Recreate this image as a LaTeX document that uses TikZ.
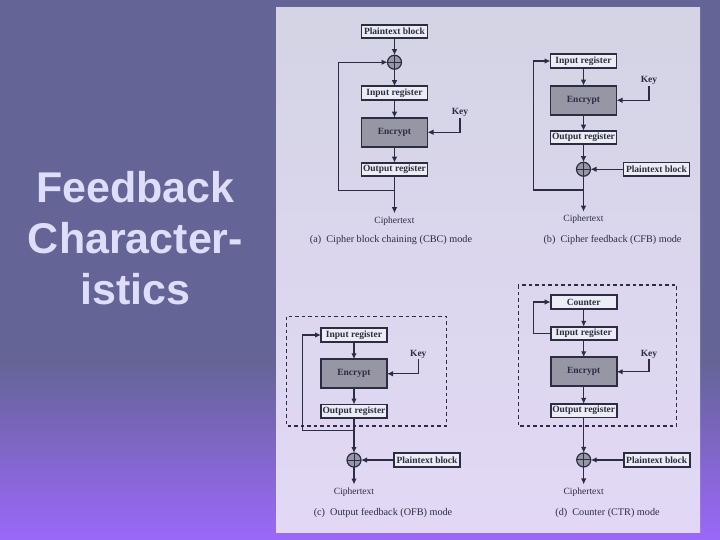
\documentclass[tikz,border=0pt]{standalone}
\usepackage{fontspec}
\setmainfont{Liberation Serif}
\newfontfamily\headfont{Liberation Sans}
\usetikzlibrary{arrows.meta,positioning}
\definecolor{slidetop}{RGB}{100,100,150}
\definecolor{slidebot}{RGB}{155,104,250}
\definecolor{paneltop}{RGB}{212,212,228}
\definecolor{panelbot}{RGB}{226,216,246}
\definecolor{ink}{RGB}{44,44,66}
\definecolor{regfill}{RGB}{236,236,244}
\definecolor{encfill}{RGB}{150,150,164}
\definecolor{titlecol}{RGB}{222,222,250}

\begin{document}
\begin{tikzpicture}[x=1pt, y=-1pt,
  reg/.style={draw=ink, fill=regfill, line width=1.7pt, minimum width=66pt,
              minimum height=13.5pt, inner sep=1pt, outer sep=0pt, text=ink,
              font=\fontsize{9.5}{10}\selectfont\bfseries},
  enc/.style={reg, fill=encfill, minimum height=29pt},
  xor/.style={circle, draw=ink, fill=encfill, line width=1.2pt, minimum size=14pt,
              inner sep=0pt, outer sep=0pt,
              path picture={\draw[ink, line width=1pt]
                (path picture bounding box.north) -- (path picture bounding box.south)
                (path picture bounding box.west) -- (path picture bounding box.east);}},
  flow/.style={-{Latex[length=6pt,width=5.5pt]}, line width=1.4pt, draw=ink},
  lbl/.style={font=\fontsize{9.5}{10}\selectfont, text=ink, inner sep=3pt},
  keylbl/.style={font=\fontsize{9.5}{10}\selectfont\bfseries, text=ink, inner sep=1pt},
  captxt/.style={font=\fontsize{10.2}{12}\selectfont, text=ink},
  boundary/.style={draw=ink, line width=1.4pt, dash pattern=on 3.5pt off 3pt},
  node distance=17pt
]
\useasboundingbox (0,0) rectangle (720,540);

%% ===== slide =====
\fill[slidetop] (0,0) rectangle (720,540);
\shade[top color=slidetop, bottom color=slidebot] (0,360) rectangle (720,540);
\shade[top color=paneltop, bottom color=panelbot] (276,8) rectangle (700,532);

\node[font=\headfont\bfseries\fontsize{43}{51}\selectfont, text=titlecol,
      align=center] (title) at (135.5,238) {Feedback\\Character-\\istics};

%% ===== (a) CBC =====
\node[reg] (pa) at (394.5,31.5) {Plaintext block};
\node[xor, below=of pa] (xa) {};
\node[reg, below=of xa] (ia) {Input register};
\node[enc, below=18pt of ia] (ea) {Encrypt};
\node[reg, below=16pt of ea] (oa) {Output register};
\node[lbl, below=37pt of oa] (ca) {Ciphertext};
\node[keylbl] (ka) at (460,112.7) {Key};
\coordinate (fa) at (338.3,190.5);

\draw[flow] (pa) -- (xa);
\draw[flow] (xa) -- (ia);
\draw[flow] (ia) -- (ea);
\draw[flow] (ea) -- (oa);
\draw[flow] (oa) -- (ca);
\draw[flow] (ka) |- (ea);
\draw[flow] (oa.south |- fa) -- (fa) |- (xa);

\node[captxt] (capa) at (391,240) {(a)\enspace Cipher block chaining (CBC) mode};

%% ===== (b) CFB =====
\node[reg] (ib) at (583.5,61) {Input register};
\node[enc, below=18pt of ib] (eb) {Encrypt};
\node[reg, below=16pt of eb] (ob) {Output register};
\node[xor, below=18pt of ob] (xb) {};
\node[reg, right=33pt of xb] (pb) {Plaintext block};
\node[lbl, below=35.5pt of xb] (cb) {Ciphertext};
\node[keylbl] (kb) at (649,80.7) {Key};
\coordinate (fb) at (533.3,190);

\draw[flow] (ib) -- (eb);
\draw[flow] (eb) -- (ob);
\draw[flow] (ob) -- (xb);
\draw[flow] (pb) -- (xb);
\draw[flow] (xb) -- (cb);
\draw[flow] (kb) |- (eb);
\draw[flow] (xb.south |- fb) -- (fb) |- (ib);

\node[captxt] (capb) at (612.5,239.5) {(b)\enspace Cipher feedback (CFB) mode};

%% ===== (c) OFB =====
\draw[boundary] (286.7,316.7) rectangle (446.7,426);
\node[reg] (ic) at (354,335) {Input register};
\node[enc, below=17.5pt of ic] (ec) {Encrypt};
\node[reg, below=16.3pt of ec] (oc) {Output register};
\node[xor, below=35pt of oc] (xc) {};
\node[reg, right=33pt of xc] (pc) {Plaintext block};
\node[lbl, below=17.5pt of xc] (cc) {Ciphertext};
\node[keylbl] (kc) at (418.3,354) {Key};
\coordinate (fc) at (302.3,430.7);

\draw[flow] (ic) -- (ec);
\draw[flow] (ec) -- (oc);
\draw[flow] (oc) -- (xc);
\draw[flow] (pc) -- (xc);
\draw[flow] (xc) -- (cc);
\draw[flow] (kc) |- (ec);
\draw[flow] (oc.south |- fc) -- (fc) |- (ic);

\node[captxt] (capc) at (383,513) {(c)\enspace Output feedback (OFB) mode};

%% ===== (d) CTR =====
\draw[boundary] (518.3,285) rectangle (676.7,426);
\node[reg] (nd) at (583.7,302) {Counter};
\node[reg, below=18pt of nd] (id) {Input register};
\node[enc, below=17pt of id] (ed) {Encrypt};
\node[reg, below=17.7pt of ed] (od) {Output register};
\node[xor, below=35.5pt of od] (xd) {};
\node[reg, right=33pt of xd] (pd) {Plaintext block};
\node[lbl, below=17.5pt of xd] (cd) {Ciphertext};
\node[keylbl] (kd) at (649,354) {Key};
\coordinate (fd) at (533.3,334);

\draw[flow] (nd) -- (id);
\draw[flow] (id) -- (ed);
\draw[flow] (ed) -- (od);
\draw[flow] (od) -- (xd);
\draw[flow] (pd) -- (xd);
\draw[flow] (xd) -- (cd);
\draw[flow] (kd) |- (ed);
\draw[flow] (id.west) -- (id.west -| fd) |- (nd);

\node[captxt] (capd) at (607.5,513) {(d)\enspace Counter (CTR) mode};

\end{tikzpicture}
\end{document}
